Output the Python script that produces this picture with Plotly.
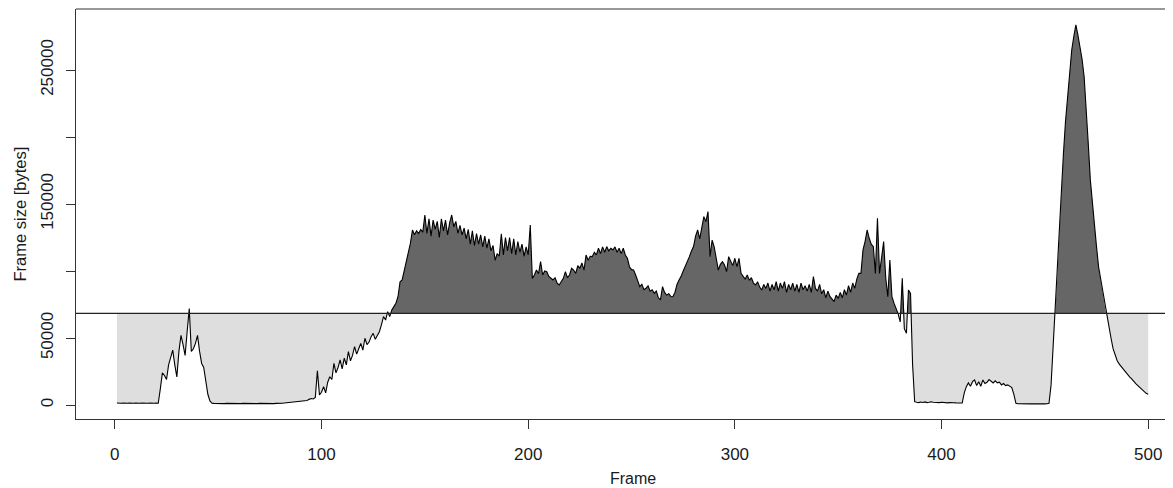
import plotly.graph_objects as go

# ---- data ----
FRAMES = list(range(1, 501))

FRAME_SIZE = [
    1500, 1200, 1300, 1400, 1200, 1300, 1500, 1200, 1300, 1400,
    1200, 1300, 1400, 1200, 1100, 1300, 1400, 1200, 1300, 1400,
    1300, 12000, 24000, 22000, 19000, 30000, 36000, 41000, 30000, 21000,
    40000, 52000, 45000, 37000, 55000, 72000, 40000, 42000, 46000, 52000,
    40000, 31000, 28000, 16000, 8000, 3000, 1300, 1200, 1100, 1200,
    1100, 1200, 1000, 1200, 1100, 1200, 1000, 1100, 1200, 1100,
    1000, 1200, 1100, 1200, 1000, 1100, 1200, 1100, 1000, 1200,
    1100, 1200, 1000, 1100, 1200, 1100, 1000, 1200, 1100, 1200,
    1300, 1500, 1700, 1900, 2200, 2500, 2300, 2700, 3000, 2800,
    3300, 3600, 3400, 4200, 4800, 4500, 5700, 25600, 7500, 9500,
    13700, 9000, 17000, 21100, 19000, 31100, 24000, 28000, 33600, 27000,
    35000, 30000, 39800, 33000, 37000, 43500, 38000, 42000, 46000, 41000,
    49800, 45000, 47000, 51000, 53500, 49000, 52000, 54700, 60000, 66000,
    63400, 69600, 66000, 71000, 73400, 76000, 80800, 92000, 93300, 100000,
    105700, 113000, 120600, 130600, 127000, 130000, 128000, 131000, 129000, 141800,
    128000, 139000, 126000, 138000, 131000, 137000, 125000, 139000, 130000, 138000,
    127000, 136000, 141800, 133000, 137000, 128000, 134000, 127000, 132000, 124000,
    131000, 120000, 130000, 119000, 128000, 120000, 127000, 118000, 126000, 117000,
    124000, 115000, 119000, 108000, 113000, 111000, 127800, 112000, 125000, 115000,
    125000, 113000, 124000, 112000, 122000, 114000, 120000, 111000, 118000, 112000,
    134300, 94500, 97000, 100700, 98000, 107000, 97000, 100000, 99500, 96000,
    94500, 93300, 95000, 91000, 89600, 92000, 94500, 99500, 95000, 97000,
    102000, 100700, 98200, 104000, 102000, 106000, 100700, 111900, 108000, 111000,
    110700, 114000, 112000, 117000, 113000, 118000, 114000, 118200, 115000, 117000,
    115700, 118000, 114000, 117000, 113000, 117000, 112000, 109500, 103200, 101000,
    100700, 97000, 93000, 88300, 90000, 86000, 87100, 89000, 85000, 86000,
    83400, 85000, 80000, 78400, 88300, 84000, 82000, 83000, 81000, 80800,
    84000, 90000, 93300, 96000, 100000, 103200, 107000, 110700, 115000, 118200,
    126000, 130600, 124000, 133100, 140600, 136800, 144300, 110700, 123000, 118000,
    108000, 100700, 105000, 107000, 104500, 99500, 110700, 107000, 104000, 109500,
    103200, 109500, 98200, 96000, 94000, 97000, 93000, 95000, 91000, 89600,
    92000, 88000, 85800, 90000, 87000, 91000, 85000, 90000, 86000, 92000,
    85000, 91000, 87000, 92000, 84000, 90000, 86000, 91000, 85000, 90000,
    84000, 91000, 86000, 89000, 85000, 90000, 84000, 95800, 87000, 85000,
    90000, 83000, 86000, 80000, 85000, 81000, 79000, 77100, 82000, 79600,
    84000, 80000, 86000, 82000, 89000, 84000, 91000, 87000, 94000, 98200,
    98200, 115700, 122000, 130600, 124400, 120000, 118200, 98200, 139300, 98200,
    110000, 121900, 95000, 80800, 108200, 80800, 76000, 72000, 68000, 62000,
    94500, 57000, 53500, 85800, 83300, 30000, 2500, 2000, 1800, 2200,
    1900, 2300, 1800, 2000, 2400, 2100, 1900, 2200, 1800, 2000,
    1700, 1900, 1600, 1800, 1500, 1700, 1600, 1500, 1400, 1500,
    9000, 13700, 16500, 14000, 17400, 18700, 14500, 17400, 14000, 18700,
    16000, 17000, 19000, 17400, 16500, 18000, 16500, 17000, 15000, 16000,
    14500, 15000, 13700, 13000, 8000, 1200, 900, 800, 900, 850,
    800, 900, 850, 800, 900, 800, 850, 900, 800, 850,
    900, 1200, 15000, 45000, 68400, 95000, 125000, 162900, 188000, 212000,
    232000, 248000, 264900, 275000, 283600, 276000, 267400, 258000, 245000, 215000,
    195000, 168000, 150000, 130000, 118000, 103000, 94000, 84000, 74000, 64700,
    57000, 50000, 42000, 37000, 33000, 30500, 28500, 26500, 24500, 23000,
    21000, 19500, 17500, 16000, 14500, 13000, 11200, 10000, 8700, 8000,
]

MEAN_LEVEL = 68400          # horizontal reference line

X_TICKS = [0, 100, 200, 300, 400, 500]
Y_TICKS = [0, 50000, 100000, 150000, 200000, 250000]
Y_TICK_TEXT = ["0", "50000", "", "150000", "", "250000"]

X_TITLE = "Frame"
Y_TITLE = "Frame size [bytes]"

DARK_FILL = "#666666"
LIGHT_FILL = "#dedede"
FONT = "Liberation Sans, Arial, Helvetica, sans-serif"
TEXT_COLOR = "#1a1a1a"


def with_crossings(xs, ys, t):
    """Add the points where the polyline crosses level t, for clean fills."""
    ox, oy = [], []
    for i in range(len(xs)):
        if i > 0:
            y0, y1 = ys[i - 1], ys[i]
            if (y0 - t) * (y1 - t) < 0:
                f = (t - y0) / (y1 - y0)
                ox.append(xs[i - 1] + f * (xs[i] - xs[i - 1]))
                oy.append(t)
        ox.append(xs[i])
        oy.append(ys[i])
    return ox, oy


px, py = with_crossings(FRAMES, FRAME_SIZE, MEAN_LEVEL)
upper = [max(v, MEAN_LEVEL) for v in py]
lower = [min(v, MEAN_LEVEL) for v in py]
base = [MEAN_LEVEL] * len(px)

fig = go.Figure()
fig.add_trace(go.Scatter(x=px, y=base, mode="lines", line=dict(width=0),
                         showlegend=False, hoverinfo="skip"))
fig.add_trace(go.Scatter(x=px, y=upper, mode="lines", line=dict(width=0),
                         fill="tonexty", fillcolor=DARK_FILL,
                         showlegend=False, hoverinfo="skip"))
fig.add_trace(go.Scatter(x=px, y=base, mode="lines", line=dict(width=0),
                         showlegend=False, hoverinfo="skip"))
fig.add_trace(go.Scatter(x=px, y=lower, mode="lines", line=dict(width=0),
                         fill="tonexty", fillcolor=LIGHT_FILL,
                         showlegend=False, hoverinfo="skip"))
fig.add_trace(go.Scatter(x=FRAMES, y=FRAME_SIZE, mode="lines",
                         line=dict(color="black", width=1.1),
                         showlegend=False, name="Frame size"))

# horizontal reference line across the whole plotting region
fig.add_shape(type="line", xref="paper", x0=0, x1=1, yref="y",
              y0=MEAN_LEVEL, y1=MEAN_LEVEL,
              line=dict(color="#222222", width=1.2), layer="above")
# top of the box (right side is cut off in the reference)
fig.add_shape(type="line", xref="paper", x0=0, x1=1, yref="paper",
              y0=1, y1=1, line=dict(color="#333333", width=1.2), layer="above")

# the page body has an 8px default margin, so the figure is 8px smaller
PAGE_OFFSET = 8
W, H = 1173 - PAGE_OFFSET, 488 - PAGE_OFFSET
ML, MT = 76 - PAGE_OFFSET, 9 - PAGE_OFFSET
MB = H - (419 - PAGE_OFFSET)
plot_w = W - ML

fig.update_layout(
    width=W, height=H,
    margin=dict(l=ML, r=0, t=MT, b=MB, pad=0),
    paper_bgcolor="white", plot_bgcolor="white",
    font=dict(family=FONT, size=17, color=TEXT_COLOR),
    showlegend=False,
    xaxis=dict(
        range=[-18.8, 512.0],
        tickmode="array", tickvals=X_TICKS,
        ticktext=[str(v) for v in X_TICKS],
        ticks="outside", ticklen=9, tickwidth=1, tickcolor="#333333",
        showline=True, linecolor="#333333", linewidth=1.2,
        showgrid=False, zeroline=False,
        ticklabelstandoff=10,
    ),
    yaxis=dict(
        range=[-10450, 295520],
        tickmode="array", tickvals=Y_TICKS, ticktext=Y_TICK_TEXT,
        tickangle=-90,
        ticks="outside", ticklen=9, tickwidth=1, tickcolor="#333333",
        showline=True, linecolor="#333333", linewidth=1.2,
        showgrid=False, zeroline=False,
        ticklabelstandoff=6,
    ),
    annotations=[
        dict(text=X_TITLE, xref="paper", yref="paper",
             x=(632.5 - 76) / plot_w, y=0, yshift=-59,
             xanchor="center", yanchor="middle", showarrow=False,
             font=dict(family=FONT, size=16, color=TEXT_COLOR)),
        dict(text=Y_TITLE, xref="paper", yref="paper",
             x=0, xshift=-(76 - 19.5), y=0.5,
             xanchor="center", yanchor="middle", textangle=-90,
             showarrow=False,
             font=dict(family=FONT, size=16.5, color=TEXT_COLOR)),
    ],
)

fig.write_html("out.html")
